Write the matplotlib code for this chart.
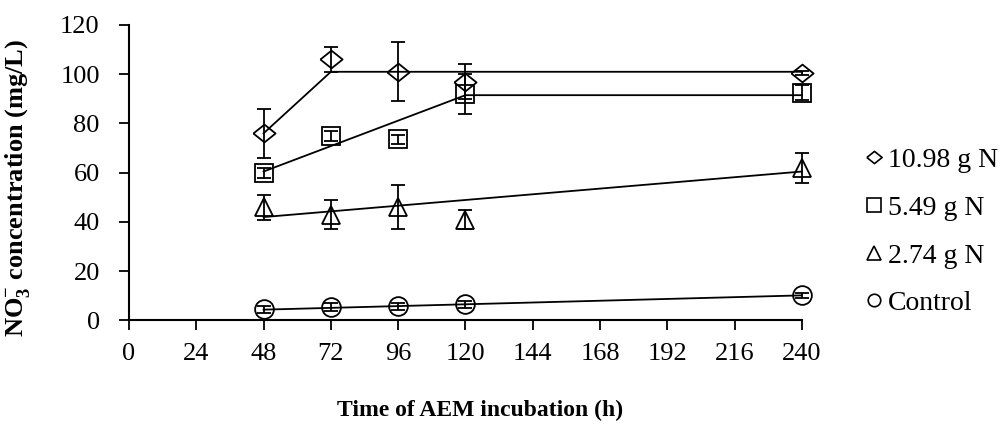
import matplotlib
matplotlib.use("Agg")
import matplotlib.pyplot as plt
from matplotlib.lines import Line2D

plt.rcParams['font.family'] = ['Liberation Serif', 'DejaVu Serif']
plt.rcParams['mathtext.fontset'] = 'custom'
plt.rcParams['mathtext.rm'] = 'Liberation Serif:bold'
plt.rcParams['mathtext.bf'] = 'Liberation Serif:bold'

# ---- data ----
hours = [48, 72, 96, 120, 240]
x_ticks = [0, 24, 48, 72, 96, 120, 144, 168, 192, 216, 240]
y_ticks = [0, 20, 40, 60, 80, 100, 120]

labels = ["10.98 g N", "5.49 g N", "2.74 g N", "Control"]

n1098 = [76, 106, 101, 97, 100.5]
n1098_err = [10, 5, 12, 7, 1]
n549 = [60, 75, 73.5, 92, 92.5]
n549_err = [2, 2, 2, 8, 3]
n274 = [46, 43, 46, 41, 62]
n274_err = [5, 6, 9, 4, 6]
ctrl = [4.5, 5.5, 5.7, 6.6, 10.3]
ctrl_err = [1.5, 1.5, 1.5, 1.5, 1.0]

# fitted trend lines (as drawn)
fit1098_x = [48, 72, 240]
fit1098_y = [76, 101, 101]
fit549_x = [48, 120, 240]
fit549_y = [60.5, 91.5, 91.5]
fit274_x = [48, 240]
fit274_y = [42, 60.5]
fitctrl_x = [48, 240]
fitctrl_y = [4.4, 10.2]

series = [
    (n1098, n1098_err, fit1098_x, fit1098_y),
    (n549, n549_err, fit549_x, fit549_y),
    (n274, n274_err, fit274_x, fit274_y),
    (ctrl, ctrl_err, fitctrl_x, fitctrl_y),
]

diamond = [(-1, 0), (0, 0.8), (1, 0), (0, -0.8), (-1, 0)]
markers = [diamond, "s", "^", "o"]
msizes = [16, 13, 13, 13.5]

fig = plt.figure(figsize=(10.02, 4.28), dpi=100)
ax = fig.add_axes([0.1287, 0.2512, 0.6717, 0.6904])

for (vals, errs, fx, fy), m, ms in zip(series, markers, msizes):
    ax.plot(fx, fy, color='black', lw=1.3, zorder=2, clip_on=False)
    ax.errorbar(hours, vals, yerr=errs, fmt='none', ecolor='black', elinewidth=1.3,
                capsize=5, capthick=1.3, zorder=3, clip_on=False)
    ax.plot(hours, vals, linestyle='none', marker=m, ms=ms, mfc='none', mec='black',
            mew=1.3, zorder=4, clip_on=False)

ax.set_xlim(0, 240)
ax.set_ylim(0, 120)
ax.set_xticks(x_ticks)
ax.set_yticks(y_ticks)
ax.tick_params(axis='both', direction='out', length=7, width=1.3, labelsize=19, colors='black')
ax.tick_params(axis='x', pad=9)
ax.tick_params(axis='y', pad=14)
for s in ['top', 'right']:
    ax.spines[s].set_visible(False)
for s in ['left', 'bottom']:
    ax.spines[s].set_linewidth(1.5)

ax.set_xlabel("Time of AEM incubation (h)", fontsize=17, fontweight='bold')
ax.xaxis.set_label_coords(0.522, -0.27)
ax.set_ylabel(r"NO$_3^{-}$ concentration (mg/L)", fontsize=19, fontweight='bold')
ax.yaxis.set_label_coords(-0.143, 0.45)

handles = [Line2D([], [], linestyle='none', marker=m, ms=s, mfc='none', mec='black', mew=1.2)
           for m, s in zip(markers, [11, 10, 10, 9])]
fig.legend(handles, labels, loc='center left', bbox_to_anchor=(0.864, 0.458), frameon=False,
           fontsize=20, handlelength=0.6, handletextpad=0.2, labelspacing=0.8,
           borderaxespad=0, borderpad=0)

fig.savefig("out.png", dpi=100)
